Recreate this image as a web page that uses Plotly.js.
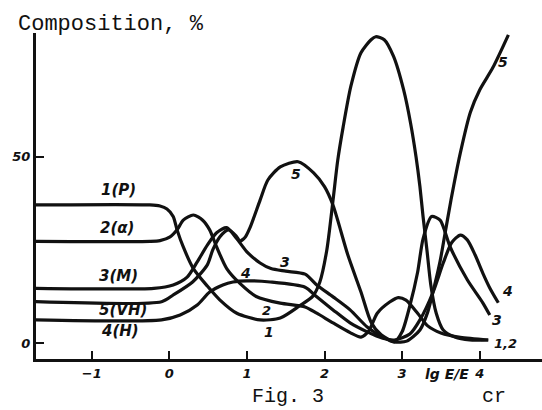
<!DOCTYPE html>
<html>
<head>
<meta charset="utf-8">
<script src="https://cdn.plot.ly/plotly-3.0.1.min.js"></script>
<style>
  html, body { margin: 0; padding: 0; background: #fff; }
  #chart { width: 542px; height: 410px; }
</style>
</head>
<body>
<div id="chart"></div>
<script>
// Composition of the flux (%) versus lg E/E_cr for five groups of nuclei.

// 1 (P)
const pX = [-1.72, -0.25, -0.12, -0.03, 0.05, 0.10, 0.18, 0.31, 0.49, 0.65, 0.87, 1.17, 1.43, 1.68, 1.85, 1.94, 2.03, 2.11, 2.17, 2.24, 2.34, 2.47, 2.60, 2.66, 2.77, 2.89, 3.02, 3.11, 3.18, 3.23, 3.27, 3.32, 3.37, 3.44, 3.53, 3.68, 3.87, 4.11];
const pY = [37.1, 37.1, 36.8, 36.0, 34.0, 30.4, 25.8, 20.0, 15.3, 11.6, 8.0, 6.2, 6.7, 10.0, 12.6, 16.4, 25.0, 38.4, 49.0, 58.0, 69.0, 78.0, 81.5, 82.3, 81.5, 77.0, 68.0, 59.0, 50.0, 42.0, 34.0, 25.0, 15.6, 8.0, 3.5, 1.6, 0.8, 0.8];

// 2 (α)
const aX = [-1.72, -0.25, -0.12, 0.01, 0.10, 0.18, 0.31, 0.43, 0.52, 0.61, 0.74, 0.91, 1.12, 1.43, 1.75, 1.90, 2.11, 2.33, 2.47, 2.57, 2.68, 2.84, 2.95, 3.05, 3.20, 3.33, 3.50, 3.75, 4.11];
const aY = [27.3, 27.3, 27.5, 28.5, 30.4, 33.0, 34.4, 33.0, 30.4, 25.8, 20.0, 16.0, 12.5, 10.7, 9.7, 8.0, 5.4, 2.8, 1.6, 3.2, 8.0, 11.0, 12.2, 11.5, 8.0, 4.6, 2.7, 1.5, 0.8];

// 3 (M)
const mX = [-1.72, -0.20, 0.05, 0.23, 0.36, 0.49, 0.61, 0.74, 0.87, 1.00, 1.17, 1.31, 1.50, 1.75, 1.90, 2.11, 2.33, 2.55, 2.75, 2.90, 3.00, 3.10, 3.20, 3.27, 3.38, 3.49, 3.62, 3.84, 4.04, 4.13];
const mY = [14.7, 14.7, 15.6, 17.7, 21.8, 26.3, 29.6, 31.0, 28.0, 24.5, 21.5, 20.0, 19.3, 18.5, 15.6, 12.4, 8.9, 4.3, 1.6, 0.3, 3.0, 10.0, 19.0, 28.0, 34.0, 33.0, 25.8, 17.0, 10.8, 7.5];

// 4 (H)
const hX = [-1.72, -0.10, 0.14, 0.36, 0.52, 0.69, 0.82, 1.00, 1.30, 1.75, 1.90, 2.11, 2.33, 2.55, 2.75, 2.90, 3.10, 3.23, 3.40, 3.53, 3.64, 3.75, 3.84, 3.94, 4.04, 4.13, 4.24];
const hY = [6.2, 6.2, 7.5, 10.2, 13.7, 15.6, 16.4, 16.7, 16.4, 15.0, 12.4, 8.9, 5.4, 3.0, 1.3, 0.8, 2.4, 6.2, 13.7, 21.5, 27.0, 29.0, 27.7, 23.7, 18.8, 14.8, 10.8];

// 5 (VH)
const vX = [-1.72, -0.10, 0.05, 0.30, 0.49, 0.56, 0.65, 0.76, 0.86, 0.91, 0.98, 1.04, 1.17, 1.27, 1.43, 1.66, 1.86, 2.00, 2.11, 2.30, 2.47, 2.60, 2.73, 2.90, 3.06, 3.23, 3.33, 3.42, 3.49, 3.55, 3.63, 3.75, 3.88, 4.00, 4.17, 4.37];
const vY = [11.1, 11.1, 12.9, 16.4, 21.0, 25.0, 28.5, 30.4, 28.8, 27.4, 28.5, 31.0, 38.4, 43.8, 47.3, 48.7, 45.7, 42.0, 37.0, 23.7, 13.7, 5.6, 2.2, 0.3, 0.5, 3.5, 8.3, 15.6, 22.0, 29.0, 38.4, 51.0, 62.0, 68.0, 74.0, 82.8];

// Axis ticks
const xTicks = [-1, 0, 1, 2, 3, 4];
const yTicks = [0, 50];

const series = [
  { x: pX, y: pY, name: '1(P)' },
  { x: aX, y: aY, name: '2(α)' },
  { x: mX, y: mY, name: '3(M)' },
  { x: hX, y: hY, name: '4(H)' },
  { x: vX, y: vY, name: '5(VH)' }
];

const traces = series.map(s => ({
  type: 'scatter',
  mode: 'lines',
  x: s.x,
  y: s.y,
  name: s.name,
  line: { color: '#111', width: 3.2, shape: 'spline', smoothing: 0.7 },
  hoverinfo: 'skip'
}));

const labelFont = { family: 'DejaVu Sans', size: 15, color: '#111', weight: 'bold', style: 'italic' };
const mono = { family: 'Liberation Mono', size: 22, color: '#111' };
const monoSmall = { family: 'Liberation Mono', size: 20, color: '#111' };

function lab(text, x, y, size) {
  return {
    text: text, x: x, y: y, xref: 'x', yref: 'y',
    showarrow: false, xanchor: 'center', yanchor: 'middle',
    font: Object.assign({}, labelFont, size ? { size: size } : {})
  };
}

const annotations = [
  lab('1(P)', -0.66, 41.1),
  lab('2(α)', -0.67, 30.9),
  lab('3(M)', -0.66, 18.0),
  lab('5(VH)', -0.60, 8.9),
  lab('4(H)', -0.64, 3.2),
  lab('5', 1.63, 45.4, 14),
  lab('5', 4.30, 75.5, 14),
  lab('3', 1.49, 21.8, 14),
  lab('4', 0.98, 18.8, 14),
  lab('2', 1.25, 8.6, 13),
  lab('1', 1.28, 3.0, 14),
  lab('4', 4.36, 14.0, 14),
  lab('3', 4.22, 6.2, 14),
  lab('1,2', 4.33, 0.0, 13),
  {
    text: 'lg E/E', xref: 'paper', yref: 'paper', x: (447 - 36) / 506, y: -(374 - 359) / 326,
    showarrow: false, xanchor: 'center', yanchor: 'middle',
    font: { family: 'DejaVu Sans', size: 14, color: '#111', weight: 'bold', style: 'italic' }
  },
  {
    text: 'cr', xref: 'paper', yref: 'paper', x: (494 - 36) / 506, y: -(396 - 359) / 326,
    showarrow: false, xanchor: 'center', yanchor: 'middle', font: monoSmall
  },
  {
    text: 'Fig. 3', xref: 'paper', yref: 'paper', x: (288 - 36) / 506, y: -(396 - 359) / 326,
    showarrow: false, xanchor: 'center', yanchor: 'middle', font: monoSmall
  }
];

const tickFont = { family: 'DejaVu Sans', size: 13, color: '#111', weight: 'bold', style: 'italic' };

const layout = {
  width: 542,
  height: 410,
  margin: { l: 36, r: 0, t: 33, b: 51 },
  paper_bgcolor: '#fff',
  plot_bgcolor: '#fff',
  showlegend: false,
  title: {
    text: 'Composition, %',
    font: mono,
    xref: 'container', yref: 'container',
    x: 18 / 542, xanchor: 'left',
    y: 1 - 22 / 410, yanchor: 'middle'
  },
  xaxis: {
    range: [-1.718, 4.803],
    tickvals: xTicks,
    ticks: 'inside', ticklen: 8, tickwidth: 2, tickcolor: '#111',
    showline: true, linecolor: '#111', linewidth: 3,
    showgrid: false, zeroline: false,
    tickfont: tickFont
  },
  yaxis: {
    range: [-4.3, 83.3],
    tickvals: yTicks,
    ticks: 'inside', ticklen: 8, tickwidth: 2, tickcolor: '#111',
    showline: true, linecolor: '#111', linewidth: 3,
    showgrid: false, zeroline: false,
    tickfont: tickFont
  },
  annotations: annotations
};

Plotly.newPlot('chart', traces, layout, { staticPlot: true, displayModeBar: false });
</script>
</body>
</html>
